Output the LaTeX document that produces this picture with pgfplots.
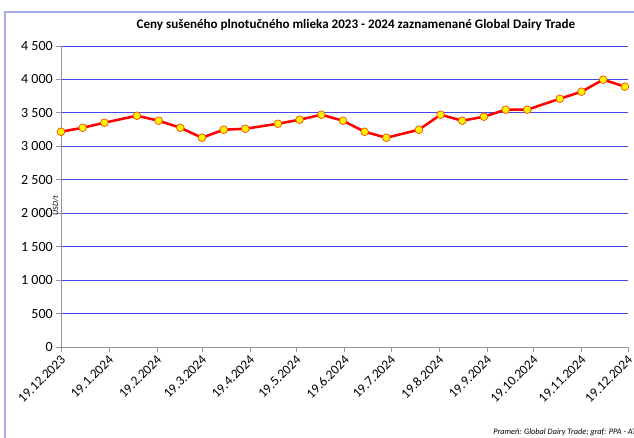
\documentclass[border=0pt]{standalone}
\usepackage{pgfplots}
\pgfplotsset{compat=1.18}
\usepackage{fontspec}
\setmainfont{Carlito}
\definecolor{gridblue}{RGB}{70,70,235}
\definecolor{borderblue}{RGB}{170,170,240}
\definecolor{axisgray}{RGB}{150,150,150}
\definecolor{markedge}{RGB}{240,70,0}
\definecolor{linered}{RGB}{255,0,0}
\begin{document}
\begin{tikzpicture}[x=0.75pt,y=0.75pt]
\path[use as bounding box] (0,0) rectangle (634,437);
\draw[borderblue, line width=1.5pt] (5,-2) -- (5,425) -- (640,425);
\begin{axis}[
  at={(45.75pt,67.5pt)}, anchor=south west,
  width=425.25pt, height=225.75pt, scale only axis,
  xmin=0, xmax=366, ymin=0, ymax=4500,
  axis x line*=bottom, axis y line*=left,
  axis line style={axisgray, line width=0.6pt, -},
  ymajorgrids, grid style={gridblue, line width=0.75pt},
  ytick={0,500,...,4500},
  xtick={0,31,62,91,122,152,183,213,244,275,305,336,366},
  xticklabels={19.12.2023,19.1.2024,19.2.2024,19.3.2024,19.4.2024,19.5.2024,19.6.2024,19.7.2024,19.8.2024,19.9.2024,19.10.2024,19.11.2024,19.12.2024},
  xticklabel style={rotate=45, anchor=north east, inner sep=0.5pt, xshift=-1pt, font=\fontsize{10}{12}\selectfont},
  yticklabel style={font=\fontsize{10.5}{12}\selectfont, inner sep=2pt},
  tick style={axisgray, line width=0.6pt},
  tick align=outside, major tick length=4pt,
  /pgf/number format/assume math mode=true,
  /pgf/number format/1000 sep={\ },
  scaled y ticks=false,
  title={Ceny sušeného plnotučného mlieka 2023 - 2024 zaznamenané Global Dairy Trade},
  title style={at={(axis description cs:0.52,1)}, anchor=base, yshift=7.5pt, font=\fontsize{9.8}{11}\selectfont\bfseries},
  ylabel={USD/t},
  ylabel style={at={(axis description cs:-0.004,0.47)}, anchor=south, font=\fontsize{6}{7}\selectfont\itshape, inner sep=0pt},
  clip=false,
]
\addplot[linered, line width=1.9pt, mark=*, mark size=2.9pt,
  mark options={fill=yellow, draw=markedge, line width=0.5pt}]
coordinates {
(0,3218) (14,3278) (28,3353) (49,3458) (63,3383) (77,3278) (91,3129)
(105,3248) (119,3263) (140,3338) (154,3398) (168,3473) (182,3383)
(196,3218) (210,3129) (231,3248) (245,3473) (259,3383) (273,3443)
(287,3548) (301,3548) (322,3712) (336,3817) (350,3997) (364,3892)
};
\end{axis}
\node[anchor=west, font=\fontsize{6.2}{7}\selectfont\itshape, inner sep=0pt] at (493,5) {Prameň: Global Dairy Trade; graf: PPA - ATI};
\end{tikzpicture}
\end{document}
